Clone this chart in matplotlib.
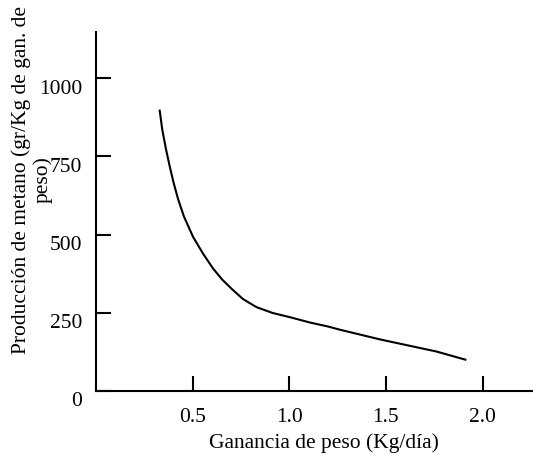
import matplotlib
matplotlib.use("Agg")
import matplotlib.pyplot as plt
import matplotlib.transforms as mtransforms

# Data
ganancia = [0.329, 0.343, 0.362, 0.381, 0.400, 0.424, 0.455, 0.502, 0.553, 0.605,
            0.653, 0.708, 0.760, 0.830, 0.915, 1.002, 1.105, 1.200, 1.260, 1.467,
            1.640, 1.761, 1.916]
metano = [900, 836, 774, 720, 670, 615, 558, 493, 440, 392,
          356, 323, 294, 268, 249, 236, 219, 206, 196, 165,
          142, 126, 99]
xticks = [0.5, 1.0, 1.5, 2.0]
xtick_labels = ["0.5", "1.0", "1.5", "2.0"]
yticks = [0, 250, 500, 750, 1000]
ytick_labels = ["0", "250", "500", "750", "1000"]

plt.rcParams['font.family'] = ['Liberation Serif', 'DejaVu Serif']

fig = plt.figure(figsize=(5.33, 4.54), dpi=100)
ax = fig.add_axes([0.180, 0.139, 0.818, 0.7905])

ax.plot(ganancia, metano, color='black', linewidth=1.5,
        solid_joinstyle='round', solid_capstyle='butt')

ax.set_xlim(0, 2.255)
ax.set_ylim(0, 1148)
ax.spines['top'].set_visible(False)
ax.spines['right'].set_visible(False)
for s in ('left', 'bottom'):
    ax.spines[s].set_linewidth(1.5)

ax.set_xticks(xticks)
ax.set_xticklabels(xtick_labels)
ax.set_yticks(yticks)
ax.set_yticklabels(ytick_labels)
ax.tick_params(axis='both', direction='in', length=11, width=1.5, labelsize=15.5)
ax.tick_params(axis='x', pad=12)
ax.tick_params(axis='y', pad=10)

offset = mtransforms.ScaledTranslation(0, -6 / 72, fig.dpi_scale_trans)
for lab in ax.get_yticklabels():
    lab.set_transform(lab.get_transform() + offset)

fig.text(0.608, 0.024, "Ganancia de peso (Kg/día)", ha='center', va='center', fontsize=15.5)
fig.text(0.06, 0.604, "Producción de metano (gr/Kg de gan. de\npeso)", ha='center', va='center',
         rotation=90, fontsize=15.5, multialignment='center', linespacing=1.1)

fig.savefig("out.png", dpi=100)
